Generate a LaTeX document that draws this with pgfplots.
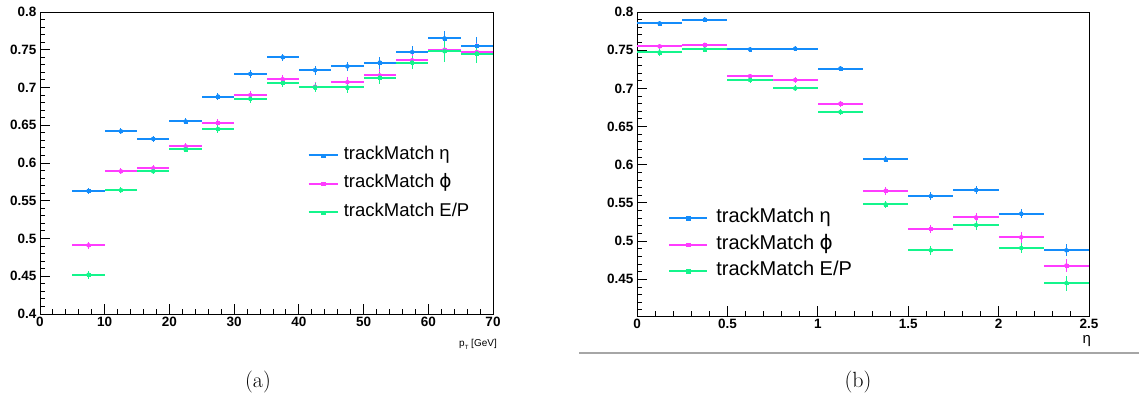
\documentclass[border=0pt]{standalone}
\usepackage{fontspec}
\usepackage{pgfplots}
\usepackage{pgfplotstable}
\pgfplotsset{compat=1.18}
\newfontfamily\lsans{Liberation Sans}
\newfontfamily\lsansb{Liberation Sans Bold}
\newfontfamily\dejavu{DejaVu Sans}
\definecolor{cEta}{RGB}{20,140,250}
\definecolor{cPhi}{RGB}{255,60,255}
\definecolor{cEP}{RGB}{20,245,140}

\pgfplotstableread{
x y ex ey
7.5 0.563 2.5 0.004
12.5 0.642 2.5 0.004
17.5 0.632 2.5 0.004
22.5 0.655 2.5 0.004
27.5 0.688 2.5 0.005
32.5 0.718 2.5 0.005
37.5 0.740 2.5 0.005
42.5 0.723 2.5 0.006
47.5 0.728 2.5 0.006
52.5 0.733 2.5 0.008
57.5 0.747 2.5 0.008
62.5 0.765 2.5 0.010
67.5 0.755 2.5 0.012
}\leta
\pgfplotstableread{
x y ex ey
7.5 0.491 2.5 0.005
12.5 0.589 2.5 0.004
17.5 0.593 2.5 0.004
22.5 0.622 2.5 0.004
27.5 0.653 2.5 0.005
32.5 0.690 2.5 0.005
37.5 0.711 2.5 0.006
42.5 0.701 2.5 0.006
47.5 0.707 2.5 0.007
52.5 0.716 2.5 0.008
57.5 0.736 2.5 0.009
62.5 0.750 2.5 0.011
67.5 0.747 2.5 0.012
}\lphi
\pgfplotstableread{
x y ex ey
7.5 0.452 2.5 0.005
12.5 0.564 2.5 0.004
17.5 0.589 2.5 0.004
22.5 0.618 2.5 0.004
27.5 0.645 2.5 0.005
32.5 0.685 2.5 0.005
37.5 0.706 2.5 0.006
42.5 0.700 2.5 0.006
47.5 0.700 2.5 0.007
52.5 0.713 2.5 0.008
57.5 0.733 2.5 0.009
62.5 0.748 2.5 0.014
67.5 0.745 2.5 0.012
}\lep
\pgfplotstableread{
x y ex ey
0.125 0.785 0.125 0.003
0.375 0.790 0.125 0.003
0.625 0.751 0.125 0.003
0.875 0.752 0.125 0.003
1.125 0.726 0.125 0.003
1.375 0.607 0.125 0.004
1.625 0.559 0.125 0.005
1.875 0.567 0.125 0.005
2.125 0.536 0.125 0.006
2.375 0.488 0.125 0.008
}\reta
\pgfplotstableread{
x y ex ey
0.125 0.755 0.125 0.003
0.375 0.757 0.125 0.003
0.625 0.716 0.125 0.003
0.875 0.711 0.125 0.004
1.125 0.680 0.125 0.004
1.375 0.566 0.125 0.005
1.625 0.516 0.125 0.005
1.875 0.531 0.125 0.006
2.125 0.505 0.125 0.007
2.375 0.468 0.125 0.009
}\rphi
\pgfplotstableread{
x y ex ey
0.125 0.747 0.125 0.004
0.375 0.751 0.125 0.003
0.625 0.711 0.125 0.004
0.875 0.700 0.125 0.004
1.125 0.669 0.125 0.004
1.375 0.548 0.125 0.005
1.625 0.488 0.125 0.006
1.875 0.521 0.125 0.006
2.125 0.491 0.125 0.007
2.375 0.445 0.125 0.010
}\rep

\pgfplotsset{
  rootax/.style={
    scale only axis,
    axis line style={black, line width=0.9pt},
    tick align=inside,
    xtick pos=bottom, ytick pos=left,
    major tick length=10pt, minor tick length=5pt,
    every tick/.style={black, line width=0.9pt},
    ticklabel style={font=\lsansb\fontsize{13.5}{13.5}\selectfont},
    /pgf/number format/assume math mode=true,
    /pgf/number format/fixed,
    minor x tick num=4,
    clip=false,
  },
  hbar/.style={only marks, mark=none, forget plot,
    error bars/.cd, x dir=both, x explicit, error mark=none,
    error bar style={line width=2pt}},
  vbar/.style={only marks, mark=square*, mark size=1.3pt, forget plot,
    error bars/.cd, y dir=both, y explicit, error mark=none,
    error bar style={line width=1pt}},
}

\begin{document}
\begin{tikzpicture}
\useasboundingbox (0,0) rectangle (1139pt,403pt);

% ---------- (a) ----------
\begin{axis}[rootax,
  at={(40pt,89pt)}, anchor=south west,
  width=453pt, height=302pt,
  xmin=0, xmax=70, ymin=0.4, ymax=0.8,
  xtick={0,10,20,30,40,50,60,70},
  ytick={0.4,0.45,0.5,0.55,0.6,0.65,0.7,0.75,0.8},
  yticklabels={0.4,0.45,0.5,0.55,0.6,0.65,0.7,0.75,0.8},
  minor y tick num=4,
  xlabel={\lsans\fontsize{10}{10}\selectfont p\raisebox{-3pt}{\fontsize{6}{6}\selectfont T} [GeV]},
  xlabel style={at={(rel axis cs:1,0)}, anchor=north east, inner sep=0pt, xshift=4pt, yshift=-25pt},
  legend cell align=left,
  legend style={at={(rel axis cs:0.584,0.559)}, anchor=north west, draw=none, fill=none,
    font=\lsans\fontsize{18.5}{18.5}\selectfont,
    nodes={inner sep=0pt, text height=12pt, text depth=4pt},
    row sep=12.5pt},
  legend image code/.code={\draw[#1, line width=1.8pt] (0pt,0pt) -- (29pt,0pt);
     \fill[#1] (13pt,-1.6pt) rectangle (16.2pt,1.6pt);
     \path (35pt,0pt);},
]
\addplot[cEta, hbar] table[x=x, y=y, x error=ex] {\leta};
\addplot[cEta, vbar] table[x=x, y=y, y error=ey] {\leta};
\addplot[cPhi, hbar] table[x=x, y=y, x error=ex] {\lphi};
\addplot[cPhi, vbar] table[x=x, y=y, y error=ey] {\lphi};
\addplot[cEP, hbar] table[x=x, y=y, x error=ex] {\lep};
\addplot[cEP, vbar] table[x=x, y=y, y error=ey] {\lep};
\addlegendimage{cEta}
\addlegendentry{trackMatch η}
\addlegendimage{cPhi}
\addlegendentry{trackMatch {\dejavu ϕ}}
\addlegendimage{cEP}
\addlegendentry{trackMatch E/P}
\end{axis}

% ---------- (b) ----------
\begin{axis}[rootax,
  at={(637pt,87pt)}, anchor=south west,
  width=452pt, height=304pt,
  xmin=0, xmax=2.5, ymin=0.402, ymax=0.8,
  xtick={0,0.5,1,1.5,2,2.5},
  xticklabels={0,0.5,1,1.5,2,2.5},
  ytick={0.45,0.5,0.55,0.6,0.65,0.7,0.75,0.8},
  yticklabels={0.45,0.5,0.55,0.6,0.65,0.7,0.75,0.8},
  minor ytick={0.41,0.42,0.43,0.44,0.46,0.47,0.48,0.49,0.51,0.52,0.53,0.54,0.56,0.57,0.58,0.59,0.61,0.62,0.63,0.64,0.66,0.67,0.68,0.69,0.71,0.72,0.73,0.74,0.76,0.77,0.78,0.79},
  xlabel={\lsans\fontsize{15}{15}\selectfont η},
  xlabel style={at={(rel axis cs:0.995,0)}, anchor=north, inner sep=0pt, yshift=-19pt},
  legend cell align=left,
  legend style={at={(rel axis cs:0.062,0.36)}, anchor=north west, draw=none, fill=none,
    font=\lsans\fontsize{20}{20}\selectfont,
    nodes={inner sep=0pt, text height=14pt, text depth=5pt},
    row sep=7.5pt},
  legend image code/.code={\draw[#1, line width=1.8pt] (0pt,0pt) -- (38pt,0pt);
     \fill[#1] (17.4pt,-1.6pt) rectangle (20.6pt,1.6pt);
     \path (47pt,0pt);},
]
\addplot[cEta, hbar] table[x=x, y=y, x error=ex] {\reta};
\addplot[cEta, vbar] table[x=x, y=y, y error=ey] {\reta};
\addplot[cPhi, hbar] table[x=x, y=y, x error=ex] {\rphi};
\addplot[cPhi, vbar] table[x=x, y=y, y error=ey] {\rphi};
\addplot[cEP, hbar] table[x=x, y=y, x error=ex] {\rep};
\addplot[cEP, vbar] table[x=x, y=y, y error=ey] {\rep};
\addlegendimage{cEta}
\addlegendentry{trackMatch η}
\addlegendimage{cPhi}
\addlegendentry{trackMatch {\dejavu ϕ}}
\addlegendimage{cEP}
\addlegendentry{trackMatch E/P}
\end{axis}

\draw[gray!70, line width=1.5pt] (579pt,50pt) -- (1139pt,50pt);
\node[font=\fontsize{22}{22}\selectfont] at (258pt,21pt) {(a)};
\node[font=\fontsize{22}{22}\selectfont] at (858pt,21pt) {(b)};
\end{tikzpicture}
\end{document}
